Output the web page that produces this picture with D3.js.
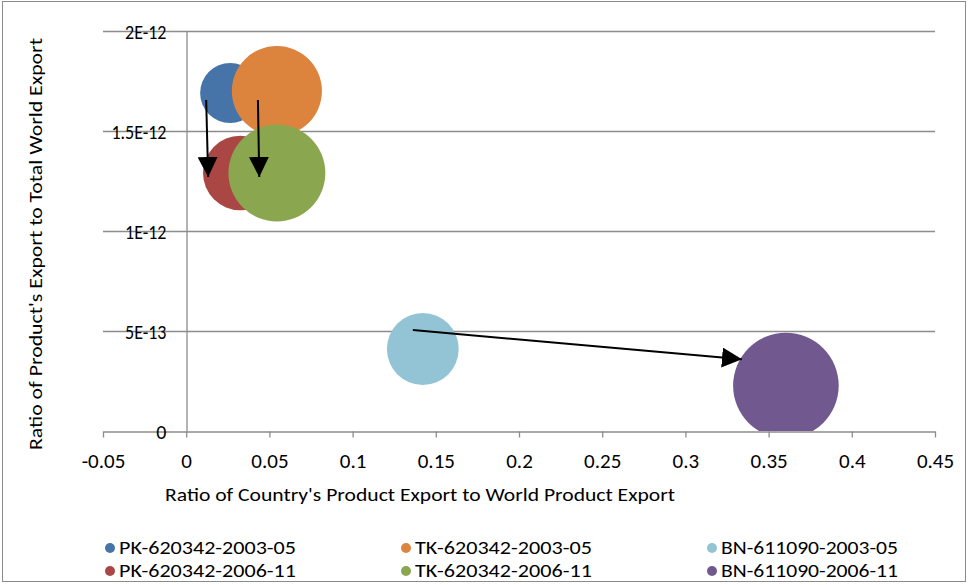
<!DOCTYPE html>
<html>
<head>
<meta charset="utf-8">
<script src="https://cdn.jsdelivr.net/npm/d3@7"></script>
<style>
  html, body { margin: 0; padding: 0; background: #fff; }
  svg text { font-family: Carlito, Calibri, "Liberation Sans", Arial, sans-serif; fill: #000; }
</style>
</head>
<body>
<svg id="chart" width="969" height="585"></svg>
<script>
// ---------- data ----------
const seriesNames = ["PK-620342-2003-05", "TK-620342-2003-05", "BN-611090-2003-05",
                     "PK-620342-2006-11", "TK-620342-2006-11", "BN-611090-2006-11"];
const xValues = [0.0264, 0.0545, 0.1422, 0.0325, 0.0545, 0.3604];
const yValues = [1.69e-12, 1.70e-12, 0.41e-12, 1.29e-12, 1.29e-12, 0.227e-12];
const bubbleSizes = [9.0, 20.3, 12.9, 13.9, 23.5, 27.9];
const seriesColors = ["#4674A9", "#DC843E", "#93C4D6", "#AA4644", "#8AA64F", "#71598F"];

const xTickValues = [-0.05, 0, 0.05, 0.1, 0.15, 0.2, 0.25, 0.3, 0.35, 0.4, 0.45];
const xTickLabels = ["-0.05", "0", "0.05", "0.1", "0.15", "0.2", "0.25", "0.3", "0.35", "0.4", "0.45"];
const yTickValues = [0, 5e-13, 1e-12, 1.5e-12, 2e-12];
const yTickLabels = ["0", "5E-13", "1E-12", "1.5E-12", "2E-12"];

const arrowFrom = [[0.0120, 1.655e-12], [0.0431, 1.655e-12], [0.1362, 0.505e-12]];
const arrowTo   = [[0.0132, 1.270e-12], [0.0439, 1.270e-12], [0.3340, 0.3585e-12]];

const xTitle = "Ratio of Country's Product Export to World Product Export";
const yTitle = "Ratio of Product's Export to Total World Export";

// ---------- layout ----------
const svg = d3.select("#chart");
const plot = { left: 103, right: 935, top: 31, bottom: 431 };
const gridColor = "#8c8c8c";

const x = d3.scaleLinear().domain([-0.05, 0.45]).range([plot.left, plot.right]);
const y = d3.scaleLinear().domain([0, 2e-12]).range([plot.bottom, plot.top]);
const r = d3.scaleSqrt().domain([0, d3.max(bubbleSizes)]).range([0, 52.8]);

function fitWidth(sel, w) {
  const n = sel.node().getComputedTextLength();
  if (Math.abs(n - w) > 1.5) sel.attr("textLength", w).attr("lengthAdjust", "spacingAndGlyphs");
}

// outer border
svg.append("rect").attr("x", 2.5).attr("y", 1.5).attr("width", 963).attr("height", 580)
  .attr("fill", "#fff").attr("stroke", "#8a8a8a").attr("stroke-width", 1);

// horizontal gridlines
svg.append("g").selectAll("line").data(yTickValues.filter(v => v > 0)).join("line")
  .attr("x1", plot.left).attr("x2", plot.right)
  .attr("y1", d => Math.round(y(d)) + 0.5).attr("y2", d => Math.round(y(d)) + 0.5)
  .attr("stroke", gridColor).attr("stroke-width", 1.3);

// clip for bubbles
svg.append("clipPath").attr("id", "plotClip").append("rect")
  .attr("x", plot.left).attr("y", plot.top)
  .attr("width", plot.right - plot.left).attr("height", plot.bottom - plot.top);

// bubbles
svg.append("g").attr("clip-path", "url(#plotClip)")
  .selectAll("circle").data(seriesNames).join("circle")
  .attr("cx", (d, i) => x(xValues[i]))
  .attr("cy", (d, i) => y(yValues[i]))
  .attr("r", (d, i) => r(bubbleSizes[i]))
  .attr("fill", (d, i) => seriesColors[i]);

// x axis
const xAxis = d3.axisBottom(x).tickValues(xTickValues)
  .tickFormat((d, i) => xTickLabels[i]).tickSize(6).tickSizeOuter(0);
const gx = svg.append("g").attr("transform", `translate(0,${Math.round(y(0)) + 0.5})`).call(xAxis);
gx.select(".domain").attr("stroke", gridColor).attr("stroke-width", 1.3);
gx.selectAll(".tick line").attr("stroke", gridColor).attr("stroke-width", 1.3);
gx.selectAll(".tick text").attr("y", 29).attr("dy", "0.35em")
  .style("font-size", "21px");

// y axis at x = 0
const yAxis = d3.axisLeft(y).tickValues(yTickValues)
  .tickFormat((d, i) => yTickLabels[i]).tickSize(0).tickPadding(20);
const gy = svg.append("g").attr("transform", `translate(${Math.round(x(0)) + 0.5},0)`).call(yAxis);
gy.select(".domain").attr("stroke", gridColor).attr("stroke-width", 1.3);
gy.selectAll(".tick text").attr("dy", "0.35em").style("font-size", "20px")
  .each(function() {
    const s = d3.select(this);
    fitWidth(s, s.node().getComputedTextLength() * 0.9);
  });

// arrows
const defs = svg.append("defs");
defs.append("marker").attr("id", "arrowHead")
  .attr("viewBox", "0 0 20 20").attr("refX", 20).attr("refY", 10)
  .attr("markerWidth", 20).attr("markerHeight", 20)
  .attr("markerUnits", "userSpaceOnUse").attr("orient", "auto")
  .append("path").attr("d", "M0,0 L20,10 L0,20 Z").attr("fill", "#000");

svg.append("g").selectAll("line").data(arrowFrom).join("line")
  .attr("x1", d => x(d[0])).attr("y1", d => y(d[1]))
  .attr("x2", (d, i) => x(arrowTo[i][0])).attr("y2", (d, i) => y(arrowTo[i][1]))
  .attr("stroke", "#000").attr("stroke-width", 2)
  .attr("marker-end", "url(#arrowHead)");

// axis titles
const xt = svg.append("text").attr("x", 420).attr("y", 494).attr("dy", "0.35em")
  .attr("text-anchor", "middle").style("font-size", "19px").text(xTitle);
const yt = svg.append("text").attr("transform", "translate(35,244) rotate(-90)")
  .attr("dy", "0.35em").attr("text-anchor", "middle").style("font-size", "19px").text(yTitle);
fitWidth(xt, 510);
fitWidth(yt, 412);

// legend
const legendCols = [110, 406, 712];
const legendRows = [548, 571];
const lg = svg.append("g").selectAll("g").data(seriesNames).join("g")
  .attr("transform", (d, i) => `translate(${legendCols[i % 3]},${legendRows[Math.floor(i / 3)]})`);
lg.append("circle").attr("r", 5).attr("fill", (d, i) => seriesColors[i]);
lg.append("text").attr("x", 9).attr("dy", "0.35em").style("font-size", "18px").text(d => d)
  .each(function() { fitWidth(d3.select(this), 177); });
</script>
</body>
</html>
